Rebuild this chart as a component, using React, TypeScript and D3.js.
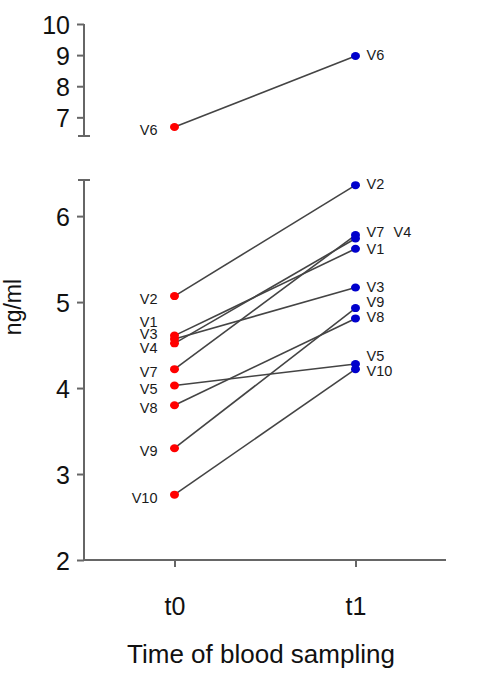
import React, { useEffect, useRef } from "react";
import * as d3 from "d3";

const times = ["t0", "t1"];
const subjects = ["V1", "V2", "V3", "V4", "V5", "V6", "V7", "V8", "V9", "V10"];
const t0Values = [4.61, 5.07, 4.57, 4.52, 4.03, 6.69, 4.22, 3.8, 3.3, 2.76];
const t1Values = [5.62, 6.36, 5.17, 5.74, 4.28, 8.97, 5.78, 4.81, 4.93, 4.22];
const lowerTicks = [2, 3, 4, 5, 6];
const upperTicks = [7, 8, 9, 10];
const yTitle = "ng/ml";
const xTitle = "Time of blood sampling";

// manual label nudges (px) so the crowded names stay readable
const t0LabelShift: Record<string, [number, number]> = {
  V1: [0, -17],
  V3: [0, -8],
  V4: [0, 2],
};
const t1LabelShift: Record<string, [number, number]> = {
  V7: [0, -2],
  V4: [27, -6],
  V1: [0, 1],
  V9: [0, -5],
  V8: [0, 0],
  V5: [0, -7],
  V10: [0, 3],
};

const FONT = "'Liberation Sans', Arial, sans-serif";
const AXIS = "#666";

const App = () => {
  const svgRef = useRef<SVGSVGElement>(null);

  useEffect(() => {
    const svg = d3.select(svgRef.current);
    svg.selectAll("*").remove();

    const axisX = 84;
    const x = d3.scalePoint().domain(times).range([axisX, 446]).padding(0.5);
    const yLow = d3.scaleLinear().domain([2, 6.42]).range([560, 180]);
    const yHigh = d3.scaleLinear().domain([6.4, 10]).range([136, 24]);

    const data = subjects.map((s, i) => ({ name: s, a: t0Values[i], b: t1Values[i] }));
    const isHigh = (v: number) => v > 6.42;
    const yOf = (v: number) => (isHigh(v) ? yHigh(v) : yLow(v));

    // y axes
    const drawY = (scale: d3.ScaleLinear<number, number>, ticks: number[]) => {
      const g = svg.append("g").attr("transform", `translate(${axisX},0)`);
      g.call(d3.axisLeft(scale).tickValues(ticks).tickSize(7).tickSizeOuter(0).tickPadding(7).tickFormat(d3.format("d")));
      g.select(".domain").remove();
      g.selectAll("line").attr("stroke", AXIS).attr("stroke-width", 2);
      g.selectAll("text").style("font-size", "25px").style("font-family", FONT).attr("fill", "#111").attr("dy", "0.36em");
      const [r0, r1] = scale.range();
      g.append("line").attr("x1", 0).attr("x2", 0).attr("y1", r0).attr("y2", r1).attr("stroke", AXIS).attr("stroke-width", 2);
      return g;
    };
    const gHigh = drawY(yHigh, upperTicks);
    gHigh.append("line").attr("x1", -6).attr("x2", 6).attr("y1", yHigh(6.4)).attr("y2", yHigh(6.4)).attr("stroke", AXIS).attr("stroke-width", 2);
    const gLow = drawY(yLow, lowerTicks);
    gLow.append("line").attr("x1", -6).attr("x2", 6).attr("y1", yLow(6.42)).attr("y2", yLow(6.42)).attr("stroke", AXIS).attr("stroke-width", 2);

    // x axis
    const gx = svg.append("g").attr("transform", `translate(0,${yLow(2)})`);
    gx.call(d3.axisBottom(x).tickSize(7).tickSizeOuter(0).tickPadding(30));
    gx.select(".domain").remove();
    gx.append("line").attr("x1", axisX).attr("x2", 446).attr("stroke", AXIS).attr("stroke-width", 2);
    gx.selectAll(".tick line").attr("stroke", AXIS).attr("stroke-width", 2);
    gx.selectAll("text").style("font-size", "25px").style("font-family", FONT).attr("fill", "#111");

    // connecting lines
    svg.append("g")
      .selectAll("line")
      .data(data)
      .enter()
      .append("line")
      .attr("x1", x("t0")!)
      .attr("x2", x("t1")!)
      .attr("y1", (d) => yOf(d.a))
      .attr("y2", (d) => yOf(d.b))
      .attr("stroke", "#444")
      .attr("stroke-width", 1.6);

    // points
    const pts = svg.append("g");
    pts.selectAll(".p0").data(data).enter().append("ellipse")
      .attr("cx", x("t0")!).attr("cy", (d) => yOf(d.a)).attr("rx", 4.5).attr("ry", 4)
      .attr("fill", "#ff0000");
    pts.selectAll(".p1").data(data).enter().append("ellipse")
      .attr("cx", x("t1")!).attr("cy", (d) => yOf(d.b)).attr("rx", 4.5).attr("ry", 4)
      .attr("fill", "#0000cc");

    // labels
    const labs = svg.append("g").style("font-family", FONT).style("font-size", "14.5px").attr("fill", "#1a1a1a");
    labs.selectAll(".l0").data(data).enter().append("text")
      .attr("x", (d) => x("t0")! - 17 + (t0LabelShift[d.name]?.[0] ?? 0))
      .attr("y", (d) => yOf(d.a) + 3 + (t0LabelShift[d.name]?.[1] ?? 0))
      .attr("dy", "0.35em")
      .attr("text-anchor", "end")
      .text((d) => d.name);
    labs.selectAll(".l1").data(data).enter().append("text")
      .attr("x", (d) => x("t1")! + 11 + (t1LabelShift[d.name]?.[0] ?? 0))
      .attr("y", (d) => yOf(d.b) - 1 + (t1LabelShift[d.name]?.[1] ?? 0))
      .attr("dy", "0.35em")
      .attr("text-anchor", "start")
      .text((d) => d.name);

    // titles
    svg.append("text")
      .attr("transform", `translate(21,307) rotate(-90)`)
      .attr("text-anchor", "middle")
      .style("font-family", FONT)
      .style("font-size", "23px")
      .attr("fill", "#111")
      .text(yTitle);
    svg.append("text")
      .attr("x", 261)
      .attr("y", 663)
      .attr("text-anchor", "middle")
      .style("font-family", FONT)
      .style("font-size", "26px")
      .attr("fill", "#111")
      .text(xTitle);
  }, []);

  return (
    <div style={{ position: "absolute", left: 0, top: 0 }}>
      <svg ref={svgRef} width={490} height={685} style={{ display: "block", background: "#fff" }} />
    </div>
  );
};

export default App;
